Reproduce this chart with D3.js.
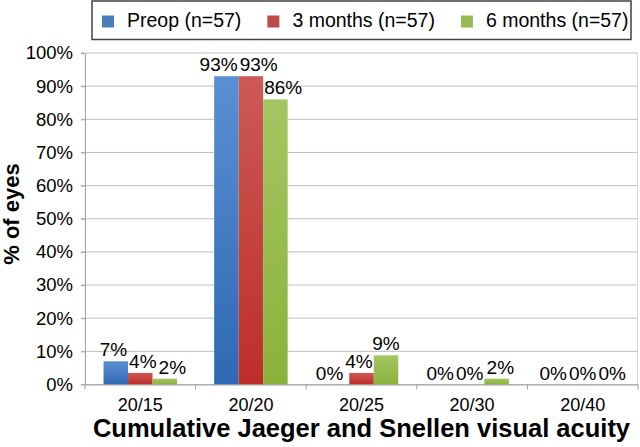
<!DOCTYPE html>
<html>
<head>
<meta charset="utf-8">
<script src="https://cdn.jsdelivr.net/npm/d3@7"></script>
<style>
  html, body { margin: 0; padding: 0; background: #fff; }
  svg { display: block; font-family: "Liberation Sans", Arial, sans-serif; }
</style>
</head>
<body>
<svg id="chart" width="640" height="447"></svg>
<script>
// ---- data ----
const categories = ["20/15", "20/20", "20/25", "20/30", "20/40"];
const seriesNames = ["Preop (n=57)", "3 months (n=57)", "6 months (n=57)"];
const preop   = [7.0, 93.0, 0, 0, 0];
const months3 = [3.5, 93.0, 3.5, 0, 0];
const months6 = [1.75, 86.0, 8.8, 1.75, 0];
const yTicks  = [0, 10, 20, 30, 40, 50, 60, 70, 80, 90, 100];
const xTitle = "Cumulative Jaeger and Snellen visual acuity";
const yTitle = "% of eyes";

const seriesValues = [preop, months3, months6];
const colors = [
  {flat: "#4a7ebb", top: "#5b8fd3", bottom: "#2e69b3"},
  {flat: "#be4b48", top: "#cc5a57", bottom: "#bd2e2b"},
  {flat: "#98b954", top: "#a4c662", bottom: "#8ab23a"}
];

const svg = d3.select("#chart");
const pLeft = 85, pRight = 638, pTop = 53, pBottom = 384.5;

const x = d3.scaleBand().domain(categories).range([pLeft, pRight]).paddingInner(0).paddingOuter(0);
const xs = d3.scaleBand().domain([0, 1, 2]).range([0, x.bandwidth()]).paddingInner(0).paddingOuter(0.757);
const y = d3.scaleLinear().domain([0, 100]).range([pBottom, pTop]);

// gradients
const defs = svg.append("defs");
colors.forEach((c, i) => {
  const g = defs.append("linearGradient").attr("id", "grad" + i)
    .attr("x1", 0).attr("y1", 0).attr("x2", 0).attr("y2", 1);
  g.append("stop").attr("offset", "0%").attr("stop-color", c.top);
  g.append("stop").attr("offset", "100%").attr("stop-color", c.bottom);
});

// gridlines
svg.append("g").selectAll("line").data(yTicks).join("line")
  .attr("x1", pLeft - 4).attr("x2", pRight)
  .attr("y1", d => y(d)).attr("y2", d => y(d))
  .attr("stroke", "#bfbfbf").attr("stroke-width", 1);

// right border
svg.append("line").attr("x1", pRight - 0.5).attr("x2", pRight - 0.5).attr("y1", pTop).attr("y2", pBottom)
  .attr("stroke", "#d9d9d9");

// y axis
const yAxis = svg.append("g").attr("transform", `translate(${pLeft},0)`)
  .call(d3.axisLeft(y).tickValues(yTicks).tickFormat(d => d + "%").tickSizeInner(4).tickSizeOuter(0).tickPadding(8));
yAxis.select(".domain").attr("stroke", "#a0a0a0");
yAxis.selectAll(".tick line").attr("stroke", "#a0a0a0");
yAxis.selectAll("text").attr("font-size", 18.5).attr("fill", "#000").attr("font-family", "Liberation Sans, Arial, sans-serif");

// bars
const barData = [];
categories.forEach((c, ci) => {
  seriesValues.forEach((vals, si) => {
    barData.push({c, ci, si, v: vals[ci]});
  });
});
svg.append("g").selectAll("rect").data(barData.filter(d => d.v > 0)).join("rect")
  .attr("x", d => x(d.c) + xs(d.si))
  .attr("width", xs.bandwidth())
  .attr("y", d => y(d.v))
  .attr("height", d => y(0) - y(d.v))
  .attr("fill", d => `url(#grad${d.si})`);

// x axis
const xAxis = svg.append("g").attr("transform", `translate(0,${pBottom})`)
  .call(d3.axisBottom(x).tickSize(0).tickPadding(0));
xAxis.select(".domain").attr("stroke", "#a0a0a0");
xAxis.selectAll("text").attr("font-size", 18).attr("fill", "#000")
  .attr("font-family", "Liberation Sans, Arial, sans-serif")
  .attr("dy", 0).attr("y", 26.5);
const bounds = categories.map(c => x(c)).concat([pRight]);
svg.append("g").selectAll("line").data(bounds).join("line")
  .attr("x1", d => d).attr("x2", d => d)
  .attr("y1", pBottom).attr("y2", pBottom + 5)
  .attr("stroke", "#a0a0a0");

// data labels with simple collision avoidance
const labG = svg.append("g").attr("font-size", 19).attr("fill", "#000");
const labels = barData.map(d => {
  const cx = x(d.c) + xs(d.si) + xs.bandwidth() / 2;
  const base = y(d.v) - 5;
  const t = labG.append("text").attr("text-anchor", "middle").attr("y", base).text(Math.round(d.v) + "%");
  const w = t.node().getComputedTextLength();
  return {d, t, x: cx, w, topY: base - 13.5, botY: base};
});
const bars = barData.filter(d => d.v > 0).map(d => ({
  d, x0: x(d.c) + xs(d.si), x1: x(d.c) + xs(d.si) + xs.bandwidth(), topY: y(d.v), botY: y(0)
}));
for (let it = 0; it < 300; it++) {
  labels.forEach(L => {
    bars.forEach(B => {
      if (B.d.ci !== L.d.ci || B.d.si === L.d.si) return;
      if (L.botY <= B.topY || L.topY >= B.botY) return;
      const l0 = L.x - L.w / 2 - 1, l1 = L.x + L.w / 2 + 1;
      if (l1 <= B.x0 || l0 >= B.x1) return;
      const bc = (B.x0 + B.x1) / 2;
      if (L.x < bc) L.x -= (l1 - B.x0); else L.x += (B.x1 - l0);
    });
  });
  for (let i = 0; i < labels.length; i++) {
    for (let j = i + 1; j < labels.length; j++) {
      const A = labels[i], B = labels[j];
      if (A.d.ci !== B.d.ci) continue;
      if (A.botY <= B.topY || A.topY >= B.botY) continue;
      const o = (A.x + A.w / 2 + 1) - (B.x - B.w / 2 - 1);
      if (o > 0) { A.x -= o / 2; B.x += o / 2; }
    }
  }
}
labels.forEach(L => L.t.attr("x", L.x));

// axis titles
svg.append("text").attr("x", (pLeft + pRight) / 2).attr("y", 437)
  .attr("text-anchor", "middle").attr("font-size", 25.5).attr("font-weight", "bold").text(xTitle);
svg.append("text").attr("transform", `translate(19,214) rotate(-90)`)
  .attr("text-anchor", "middle").attr("font-size", 22).attr("font-weight", "bold").text(yTitle);

// legend
svg.append("rect").attr("x", 92).attr("y", 1).attr("width", 539).attr("height", 38.5)
  .attr("fill", "#fff").attr("stroke", "#404040").attr("stroke-width", 1.5);
let lx = 102;
seriesNames.forEach((n, i) => {
  svg.append("rect").attr("x", lx).attr("y", 15.5).attr("width", 12).attr("height", 12).attr("fill", colors[i].flat);
  const t = svg.append("text").attr("x", lx + 25).attr("y", 27).attr("font-size", 19.5).text(n);
  lx = lx + 25 + t.node().getComputedTextLength() + 26;
});
</script>
</body>
</html>
